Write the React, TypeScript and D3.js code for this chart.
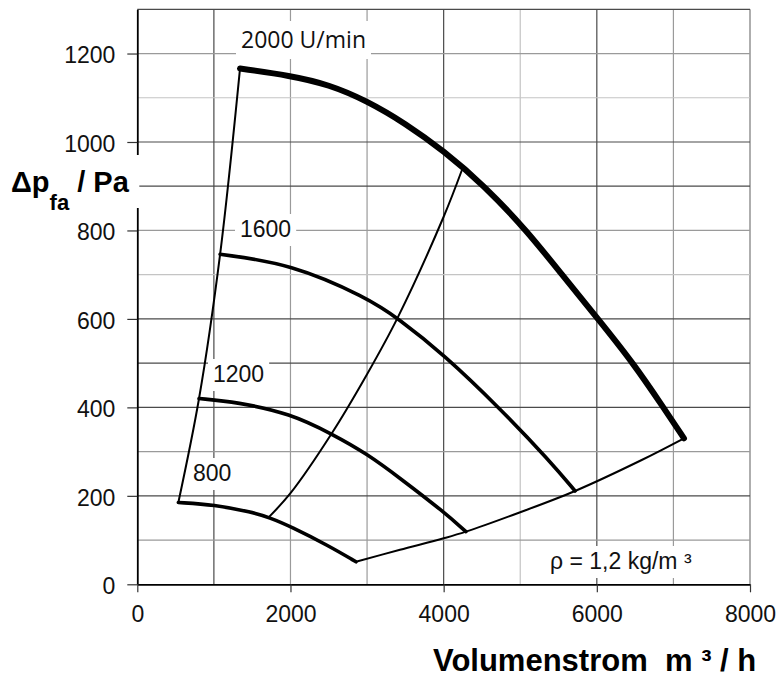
import { useEffect, useRef } from 'react'
import * as d3 from 'd3'

const W = 778
const H = 681
const LEFT = 137.3
const RIGHT = 750
const TOP = 9.3
const BOTTOM = 584.3

const xTicks = [0, 2000, 4000, 6000, 8000]
const yTicks = [0, 200, 400, 600, 800, 1000, 1200]
const xGrid = [1000, 2000, 3000, 4000, 5000, 6000, 7000, 8000]
const yGrid = [100, 200, 300, 400, 500, 600, 700, 800, 900, 1000, 1100, 1200, 1300]

// speed curves, [m3/h, Pa]
const curve2000: [number, number][] = [
  [1341, 1166], [2000, 1150], [2500, 1130], [3000, 1093], [3500, 1042],
  [4000, 980], [4520, 903], [5084, 800], [5545, 700], [6015, 600],
  [6476, 500], [6868, 400], [7138, 330],
]
const curve1600: [number, number][] = [
  [1081, 746], [2000, 725], [3000, 648], [3400, 602], [4000, 520],
  [4740, 397], [5390, 278], [5716, 211],
]
const curve1200: [number, number][] = [
  [806, 420], [1300, 412], [2000, 386], [2540, 340], [3000, 295],
  [3430, 240], [4000, 164], [4291, 119],
]
const curve800: [number, number][] = [
  [536, 185], [1000, 180], [1500, 163], [1724, 151], [2000, 131],
  [2500, 87], [2855, 51],
]
// boundary / system lines
const leftLine: [number, number][] = [[536, 185], [806, 420], [1081, 746], [1341, 1166]]
const rightLine: [number, number][] = [
  [2855, 51], [3430, 78], [4000, 104], [4291, 119], [5000, 163],
  [5716, 211], [6586, 281], [7138, 330],
]
const midLine: [number, number][] = [
  [1724, 153], [2000, 206], [2538, 341], [3000, 475], [3400, 603],
  [4000, 831], [4235, 935],
]

const darkV = [1000, 4000, 6000]
const lightV = [5000]
const darkH = [200, 400, 500, 600, 900, 1000, 1300]
const lightH = [700, 1100]

function App() {
  const ref = useRef<SVGSVGElement>(null)

  useEffect(() => {
    const svg = d3.select(ref.current)
    svg.selectAll('*').remove()

    const x = d3.scaleLinear().domain([0, 8000]).range([LEFT, RIGHT])
    const y = d3.scaleLinear().domain([0, 1300]).range([BOTTOM, TOP])

    const gcol = (d: number, dark: number[], light: number[]) =>
      dark.includes(d) ? '#4a4a4a' : light.includes(d) ? '#c4c4c4' : '#9a9a9a'

    const grid = svg.append('g')
    grid
      .selectAll('line.v')
      .data(xGrid)
      .join('line')
      .attr('class', 'v')
      .attr('x1', (d) => x(d))
      .attr('x2', (d) => x(d))
      .attr('y1', y(0))
      .attr('y2', y(1300))
      .attr('stroke', (d) => gcol(d, darkV, lightV))
      .attr('stroke-width', (d) => (d === 8000 ? 1.6 : 1.2))
    grid
      .selectAll('line.h')
      .data(yGrid)
      .join('line')
      .attr('class', 'h')
      .attr('x1', x(0))
      .attr('x2', x(8000))
      .attr('y1', (d) => y(d))
      .attr('y2', (d) => y(d))
      .attr('stroke', (d) => gcol(d, darkH, lightH))
      .attr('stroke-width', 1.2)

    const fontAxis = "'Liberation Sans', Arial, sans-serif"

    const yAxis = svg
      .append('g')
      .attr('transform', `translate(${LEFT},0)`)
      .call(d3.axisLeft(y).tickValues(yTicks).tickSize(10).tickPadding(12).tickSizeOuter(0).tickFormat(d3.format('d')))
    const xAxis = svg
      .append('g')
      .attr('transform', `translate(0,${BOTTOM})`)
      .call(d3.axisBottom(x).tickValues(xTicks).tickSize(8).tickPadding(13).tickSizeOuter(0).tickFormat(d3.format('d')))
    ;[yAxis, xAxis].forEach((g) => {
      g.attr('font-family', fontAxis).attr('font-size', 23)
      g.select('.domain').attr('stroke', '#000').attr('stroke-width', 1.8)
      g.selectAll('.tick line').attr('stroke', '#333').attr('stroke-width', 1.2)
      g.selectAll('.tick text').attr('fill', '#111')
    })
    yAxis.selectAll('.tick text').attr('dy', '0.4em')

    // y axis title, sits over the axis line
    svg.append('rect').attr('x', 0).attr('y', 155).attr('width', LEFT + 2).attr('height', 53).attr('fill', '#fff')
    const yt = svg
      .append('text')
      .attr('x', 11)
      .attr('y', 192)
      .attr('font-family', fontAxis)
      .attr('font-weight', 'bold')
      .attr('font-size', 29)
      .style('white-space', 'pre')
    yt.append('tspan').text('Δp')
    yt.append('tspan').attr('font-size', 22).attr('dy', 18).text('fa')
    yt.append('tspan').attr('dy', -18).text(' / Pa')

    svg
      .append('text')
      .attr('x', 433)
      .attr('y', 671)
      .attr('font-family', fontAxis)
      .attr('font-weight', 'bold')
      .attr('font-size', 31)
      .style('white-space', 'pre')
      .text('Volumenstrom  m ³ / h')

    // labels with white boxes behind
    const labels = [
      { t: '2000 U/min', px: 241, py: 48, font: "'Open Sans', sans-serif", size: 23 },
      { t: '1600', px: 240, py: 237, font: fontAxis, size: 23 },
      { t: '1200', px: 213, py: 382, font: fontAxis, size: 23 },
      { t: '800', px: 193, py: 481, font: fontAxis, size: 23 },
      { t: 'ρ = 1,2 kg/m ³', px: 550, py: 569, font: fontAxis, size: 23 },
    ]
    const boxLayer = svg.append('g')
    const lineLayer = svg.append('g')
    const textLayer = svg.append('g')
    labels.forEach((l) => {
      const tx = textLayer
        .append('text')
        .attr('x', l.px)
        .attr('y', l.py)
        .attr('font-family', l.font)
        .attr('font-size', l.size)
        .attr('fill', '#111')
        .style('white-space', 'pre')
        .text(l.t)
      const bb = (tx.node() as SVGTextElement).getBBox()
      boxLayer
        .append('rect')
        .attr('x', bb.x - 5)
        .attr('y', bb.y - 2)
        .attr('width', bb.width + 10)
        .attr('height', bb.height + 6)
        .attr('fill', '#fff')
    })

    const smooth = d3
      .line<[number, number]>()
      .x((d) => x(d[0]))
      .y((d) => y(d[1]))
      .curve(d3.curveBasis)
    const thru = d3
      .line<[number, number]>()
      .x((d) => x(d[0]))
      .y((d) => y(d[1]))
      .curve(d3.curveCatmullRom.alpha(0.5))

    const series = [
      { d: leftLine, w: 2, f: thru },
      { d: rightLine, w: 2, f: thru },
      { d: midLine, w: 2, f: thru },
      { d: curve800, w: 3.6, f: smooth },
      { d: curve1200, w: 3.6, f: smooth },
      { d: curve1600, w: 3.6, f: smooth },
      { d: curve2000, w: 6, f: smooth },
    ]
    lineLayer
      .selectAll('path')
      .data(series)
      .join('path')
      .attr('d', (s) => s.f(s.d))
      .attr('fill', 'none')
      .attr('stroke', '#000')
      .attr('stroke-width', (s) => s.w)
      .attr('stroke-linecap', 'round')
      .attr('stroke-linejoin', 'round')
  }, [])

  return (
    <svg
      ref={ref}
      width={W}
      height={H}
      style={{ position: 'absolute', left: 0, top: 0, background: '#fff' }}
    />
  )
}

export default App
